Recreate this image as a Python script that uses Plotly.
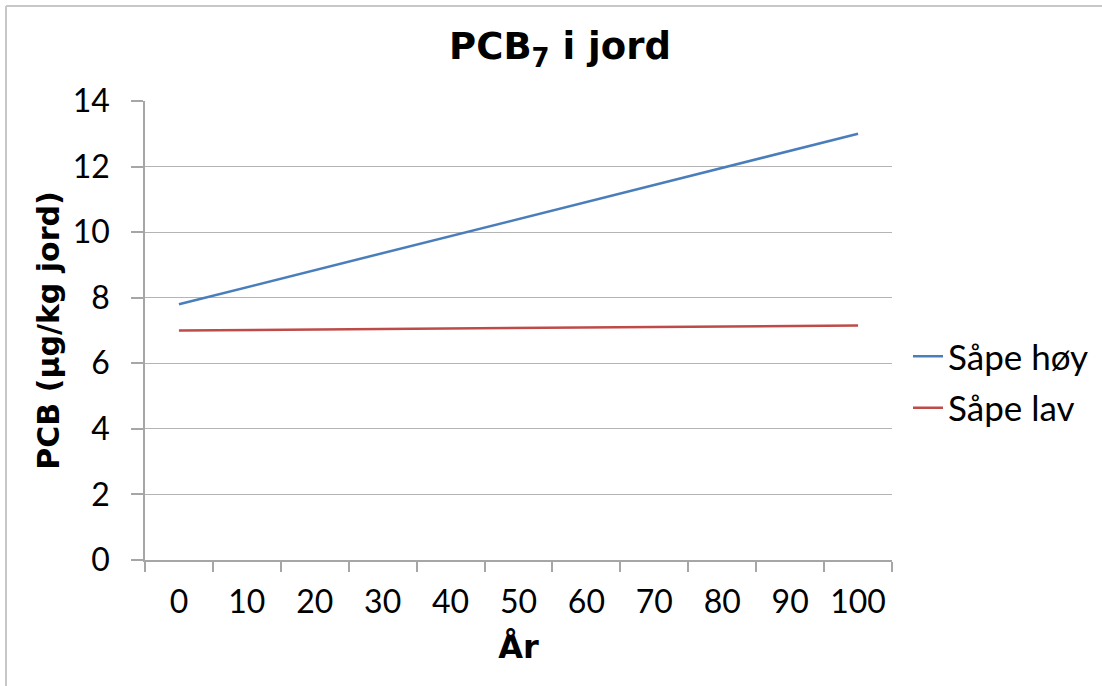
import plotly.graph_objects as go

years = ["0", "10", "20", "30", "40", "50", "60", "70", "80", "90", "100"]
sape_hoy = [7.8, 8.32, 8.84, 9.36, 9.88, 10.4, 10.92, 11.44, 11.96, 12.48, 13.0]
sape_lav = [7.0, 7.015, 7.03, 7.045, 7.06, 7.075, 7.09, 7.105, 7.12, 7.135, 7.15]
y_ticks = [0, 2, 4, 6, 8, 10, 12, 14]

W, H = 1102, 686
L, R, T, B = 145, 210, 101, 126
FONT = "Lato"
BOLD = "DejaVu Sans"

fig = go.Figure()
fig.add_trace(go.Scatter(x=years, y=sape_hoy, mode="lines", name="Såpe høy",
                         line=dict(color="#4A7EBB", width=2.5), legendgroup="a"))
fig.add_trace(go.Scatter(x=years, y=sape_lav, mode="lines", name="Såpe lav",
                         line=dict(color="#BE4B48", width=2.5), legendgroup="b"))

def px_x(p):
    return (p - L) / (W - L - R)

def px_y(p):
    return 1 - (p - T) / (H - T - B)

fig.add_shape(type="line", xref="paper", yref="paper",
              x0=px_x(6), x1=px_x(W + 5), y0=px_y(6), y1=px_y(6),
              line=dict(color="#c8c8c8", width=2))
fig.add_shape(type="line", xref="paper", yref="paper",
              x0=px_x(6), x1=px_x(6), y0=px_y(6), y1=px_y(H + 5),
              line=dict(color="#c8c8c8", width=2))

fig.update_layout(
    width=W, height=H,
    margin=dict(l=L, r=R, t=T, b=B, autoexpand=False),
    paper_bgcolor="white", plot_bgcolor="white",
    font=dict(family=FONT, color="#000000", size=32),
    title=dict(text="<b>PCB<sub>7</sub> i jord</b>", xref="container", yref="container",
               x=560 / W, xanchor="center", y=1 - 46 / H, yanchor="middle",
               font=dict(size=37, family=BOLD)),
    legend=dict(xref="container", yref="container", x=908 / W, xanchor="left",
                y=1 - 382 / H, yanchor="middle",
                font=dict(size=35, family=FONT), tracegroupgap=3,
                bgcolor="rgba(0,0,0,0)"),
    xaxis=dict(
        type="category", range=[-0.5, 10.5], tickson="boundaries",
        ticks="outside", ticklen=10, tickcolor="#a6a6a6", tickwidth=1.5,
        showline=True, linecolor="#a6a6a6", linewidth=1.5, tickangle=0,
        showgrid=False, tickfont=dict(size=32), ticklabelstandoff=13,
        title=dict(text="<b>År</b>", font=dict(size=32, family=BOLD), standoff=16),
    ),
    yaxis=dict(
        range=[0, 14], tickvals=y_ticks, ticks="outside", ticklen=12,
        tickcolor="#a6a6a6", tickwidth=1.5,
        showline=True, linecolor="#a6a6a6", linewidth=1.5,
        showgrid=True, gridcolor="#b4b4b4", gridwidth=1.2,
        zeroline=False, tickfont=dict(size=32), ticklabelstandoff=15,
        title=dict(text="<b>PCB (µg/kg jord)</b>", font=dict(size=30, family=BOLD), standoff=4),
    ),
)

fig.write_html("out.html", config={"displayModeBar": False},
               post_script="document.body.style.margin='0';document.body.style.overflow='hidden';")
